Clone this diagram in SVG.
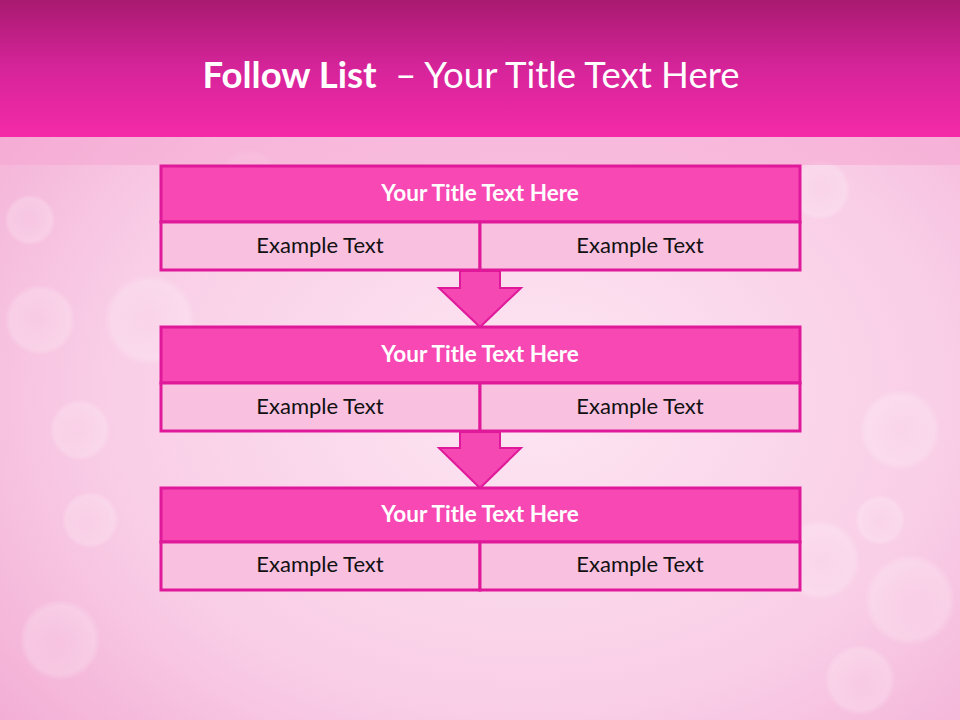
<svg xmlns="http://www.w3.org/2000/svg" width="960" height="720" viewBox="0 0 960 720">
<defs>
<linearGradient id="hdr" x1="0" y1="0" x2="0" y2="1">
<stop offset="0" stop-color="#a81a70"/>
<stop offset="0.5" stop-color="#d6249a"/>
<stop offset="1" stop-color="#f42aa8"/>
</linearGradient>
<radialGradient id="bg" cx="0.55" cy="0.55" r="0.75">
<stop offset="0" stop-color="#fde6f3"/>
<stop offset="0.6" stop-color="#f9cde6"/>
<stop offset="1" stop-color="#f2a9d2"/>
</radialGradient>
<radialGradient id="bok" cx="0.5" cy="0.5" r="0.5">
<stop offset="0" stop-color="#ffffff" stop-opacity="0.1"/>
<stop offset="0.85" stop-color="#ffffff" stop-opacity="0.22"/>
<stop offset="1" stop-color="#ffffff" stop-opacity="0.03"/>
</radialGradient>
<style>
.title{fill:#f748b4;stroke:#e0189a;stroke-width:3}
.cell{fill:#f9c0e0;stroke:#e0189a;stroke-width:3}
.arrow{fill:#f548b3;stroke:#e0189a;stroke-width:2;stroke-linejoin:miter}
.tt{font-family:Lato,"Open Sans",sans-serif;font-weight:bold;font-size:22.5px;fill:#ffffff;text-anchor:middle}
.et{font-family:Lato,"Open Sans",sans-serif;font-size:22px;fill:#111111;text-anchor:middle}
.bk{fill:url(#bok)}
</style>
</defs>
<rect x="0" y="0" width="960" height="720" fill="url(#bg)"/>
<g id="bokeh">
<circle class="bk" cx="40" cy="320" r="35"/>
<circle class="bk" cx="150" cy="320" r="45"/>
<circle class="bk" cx="80" cy="430" r="30"/>
<circle class="bk" cx="90" cy="520" r="28"/>
<circle class="bk" cx="30" cy="220" r="25"/>
<circle class="bk" cx="820" cy="190" r="30"/>
<circle class="bk" cx="900" cy="430" r="40"/>
<circle class="bk" cx="880" cy="520" r="25"/>
<circle class="bk" cx="910" cy="600" r="45"/>
<circle class="bk" cx="820" cy="560" r="40"/>
<circle class="bk" cx="60" cy="640" r="40"/>
<circle class="bk" cx="860" cy="680" r="35"/>
<circle class="bk" cx="250" cy="180" r="30"/>
</g>
<rect x="0" y="137" width="960" height="28" fill="#f6a6d2" opacity="0.55"/>
<g id="header">
<rect x="0" y="0" width="960" height="137" fill="url(#hdr)"/>
<text x="471" y="88" text-anchor="middle" font-family="Lato,'Open Sans',sans-serif" font-size="36.5" fill="#ffffff" xml:space="preserve"><tspan font-weight="bold">Follow List</tspan>  – Your Title Text Here</text>
</g>
<g id="connectors">
<polygon class="arrow" points="460,271 500,271 500,288 521,288 480,327 439,288 460,288"/>
<polygon class="arrow" points="460,432 500,432 500,448 521,448 480,488 439,448 460,448"/>
</g>
<g id="block1">
<rect class="title" x="161" y="166" width="639" height="56"/>
<rect class="cell" x="161" y="222" width="319" height="48"/>
<rect class="cell" x="480" y="222" width="320" height="48"/>
<text class="tt" x="480" y="201">Your Title Text Here</text>
<text class="et" x="320" y="253">Example Text</text>
<text class="et" x="640" y="253">Example Text</text>
</g>
<g id="block2">
<rect class="title" x="161" y="327" width="639" height="56"/>
<rect class="cell" x="161" y="383" width="319" height="48"/>
<rect class="cell" x="480" y="383" width="320" height="48"/>
<text class="tt" x="480" y="362">Your Title Text Here</text>
<text class="et" x="320" y="414">Example Text</text>
<text class="et" x="640" y="414">Example Text</text>
</g>
<g id="block3">
<rect class="title" x="161" y="488" width="639" height="54"/>
<rect class="cell" x="161" y="542" width="319" height="48"/>
<rect class="cell" x="480" y="542" width="320" height="48"/>
<text class="tt" x="480" y="522">Your Title Text Here</text>
<text class="et" x="320" y="572">Example Text</text>
<text class="et" x="640" y="572">Example Text</text>
</g>
</svg>
